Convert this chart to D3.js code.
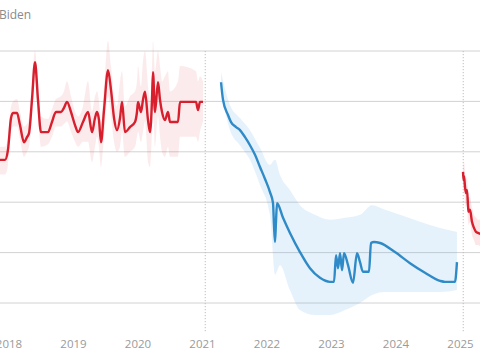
<!DOCTYPE html>
<html><head><meta charset="utf-8">
<script src="https://cdn.jsdelivr.net/npm/d3@7"></script>
<style>html,body{margin:0;padding:0;background:#fff;overflow:hidden}svg{display:block}</style>
</head><body>
<svg id="c" width="480" height="360"></svg>
<script>
// ---- data ----
const xTicks = [2018, 2019, 2020, 2021, 2022, 2023, 2024, 2025];
const yGrid = [0, 10, 20, 30, 40, 50];
const events = [2021.05, 2025.05];
const legendLabel = "Biden";

const trump1Dates = [2017.868,2017.946,2017.992,2018.039,2018.070,2018.132,2018.178,2018.240,2018.287,2018.318,2018.364,2018.411,2018.457,2018.504,2018.612,2018.674,2018.736,2018.814,2018.860,2018.907,2018.969,2019.031,2019.078,2019.155,2019.233,2019.295,2019.341,2019.372,2019.403,2019.434,2019.481,2019.543,2019.589,2019.636,2019.682,2019.729,2019.760,2019.806,2019.884,2019.961,2019.992,2020.008,2020.054,2020.085,2020.116,2020.163,2020.194,2020.225,2020.240,2020.271,2020.318,2020.349,2020.380,2020.426,2020.473,2020.504,2020.628,2020.659,2020.907,2020.938,2020.969,2021.016];
const trump1Values = [28.4,28.4,30.4,36.7,37.7,37.7,35.3,31.9,32.9,33.7,40.3,47.8,40.3,33.9,33.9,35.9,37.9,37.9,38.7,39.9,37.9,35.3,33.9,35.9,37.9,33.9,36.7,37.9,36.3,31.9,38.3,46.2,42.3,36.7,34.3,36.7,39.9,33.9,34.9,35.9,37.9,39.9,37.9,40.3,41.9,36.3,33.9,40.3,45.8,37.9,43.8,40.3,37.9,36.3,37.9,35.9,35.9,39.9,39.9,38.3,39.9,39.9];
const trump1Upper = [31,31,33,39,40,40.5,38,35,35.5,37,44,50,44,37,36.5,38.5,40.5,41,42,44,41,38,37,39,44,38,41,42,40,36,43,52,47,41,39,44,46,39,41,42,44,47,43,48,50,43,40,47,52,46,50,47,44,45,46,42,44,47,46,44,45,44];
const trump1Lower = [25.5,25.5,27.5,34,35,35,32.5,29,30,31,37,44,37,31,31.5,33,35,35,35.5,36,34,32,31,32,32,28,31,33,31,27,33,41,37,32,30,31,34,29,30,31,33,34,32,34,36,28,27,34,39,31,37,33,30,29,31,29,29,33,33,32,34,36];

const bidenDates = [2021.295,2021.326,2021.403,2021.450,2021.527,2021.589,2021.667,2021.744,2021.822,2021.899,2021.977,2022.054,2022.101,2022.116,2022.132,2022.147,2022.163,2022.256,2022.364,2022.519,2022.674,2022.829,2022.984,2023.047,2023.078,2023.109,2023.140,2023.171,2023.202,2023.264,2023.341,2023.403,2023.450,2023.496,2023.589,2023.620,2023.667,2023.760,2023.992,2024.225,2024.457,2024.690,2024.767,2024.922,2024.953];
const bidenValues = [43.8,40.3,37.3,35.9,34.9,34.3,32.9,31.3,29.4,27.0,24.6,22.0,19.8,15.5,12.1,16.1,19.8,16.9,13.9,10.1,6.9,5.0,4.2,4.2,9.5,6.9,9.9,6.5,9.9,7.5,4.0,9.9,8.1,6.2,6.2,11.9,12.1,11.9,10.1,7.9,6.0,4.4,4.2,4.2,8.1];
const bidenBandDates = [2021.295,2021.434,2021.589,2021.744,2021.899,2022.054,2022.132,2022.209,2022.364,2022.519,2022.752,2022.984,2023.217,2023.450,2023.636,2023.837,2024.070,2024.380,2024.690,2024.953];
const bidenUpper = [45.8,39.3,36.7,34.3,30.8,27.4,28.4,25.4,22.4,19.4,17.5,16.5,16.9,17.5,19.4,18.5,17.5,16.1,14.9,14.1];
const bidenLower = [41.9,34.3,31.3,28.4,23.4,17.5,5.6,7.5,2.6,-1.4,-2.4,-2.4,-1.4,0,1.6,2.2,2.2,2.2,2.2,2.6];

const trump2Dates = [2025.047,2025.054,2025.062,2025.078,2025.093,2025.109,2025.124,2025.132,2025.155,2025.186,2025.217,2025.248,2025.279,2025.326];
const trump2Values = [26.0,24.4,25.2,23.0,21.8,22.4,19.4,18.1,18.5,16.1,14.9,14.1,13.9,13.7];
const trump2Upper = [28.5,27,28,26,24.5,25,22.5,21,21,19,17.5,17,16.5,16.5];
const trump2Lower = [23.5,22,22.5,20,19,19.5,16.5,15.5,16,13.5,12.5,11.5,11.5,11];

// ---- chart ----
const svg = d3.select("#c");
const x = d3.scaleLinear().domain([2019, 2025]).range([73, 460]);
const y = d3.scaleLinear().domain([0, 50]).range([303, 51]);

const red = "#d71f2e", blue = "#2f8bc8";

// gridlines
svg.append("g").selectAll("line").data(yGrid).join("line")
  .attr("x1", 0).attr("x2", 480)
  .attr("y1", d => y(d)).attr("y2", d => y(d))
  .attr("stroke", "#d2d2d2").attr("stroke-width", 1);

function zip(ds, a, b) { return ds.map((d, i) => ({t: d, a: a[i], b: b ? b[i] : null})); }
const area = d3.area().x(d => x(d.t)).y0(d => y(d.b)).y1(d => y(d.a)).curve(d3.curveMonotoneX);
const line = d3.line().x(d => x(d.t)).y(d => y(d.a)).curve(d3.curveMonotoneX);

// bands
svg.append("path").datum(zip(trump1Dates, trump1Upper, trump1Lower)).attr("d", area).attr("fill", "rgba(232,90,100,0.12)");
svg.append("path").datum(zip(bidenBandDates, bidenUpper, bidenLower)).attr("d", area).attr("fill", "rgba(90,170,225,0.15)");
svg.append("path").datum(zip(trump2Dates, trump2Upper, trump2Lower)).attr("d", area).attr("fill", "rgba(232,90,100,0.15)");

// event lines
svg.append("g").selectAll("line").data(events).join("line")
  .attr("x1", d => x(d)).attr("x2", d => x(d))
  .attr("y1", 51).attr("y2", 333)
  .attr("stroke", "#bdbdbd").attr("stroke-width", 1).attr("stroke-dasharray", "1.2,1.8");

// lines
svg.append("path").datum(zip(trump1Dates, trump1Values)).attr("d", line).attr("fill", "none").attr("stroke", red).attr("stroke-width", 2.4).attr("stroke-linejoin", "round");
svg.append("path").datum(zip(bidenDates, bidenValues)).attr("d", line).attr("fill", "none").attr("stroke", blue).attr("stroke-width", 2.4).attr("stroke-linejoin", "round");
svg.append("path").datum(zip(trump2Dates, trump2Values)).attr("d", line).attr("fill", "none").attr("stroke", red).attr("stroke-width", 2.4).attr("stroke-linejoin", "round");

// x axis
const ax = svg.append("g").attr("transform", "translate(0,340)")
  .call(d3.axisBottom(x).tickValues(xTicks).tickFormat(d3.format("d")).tickSize(0).tickPadding(0));
ax.select(".domain").remove();
ax.selectAll("text").attr("fill", "#9a9a9a").attr("font-size", "11.5px").attr("font-family", "'Open Sans', sans-serif");

// legend text
svg.append("text").attr("x", -1).attr("y", 19).text(legendLabel)
  .attr("fill", "#8a8a8a").attr("font-size", "12px").attr("font-family", "'Open Sans', sans-serif");
</script>
</body></html>
